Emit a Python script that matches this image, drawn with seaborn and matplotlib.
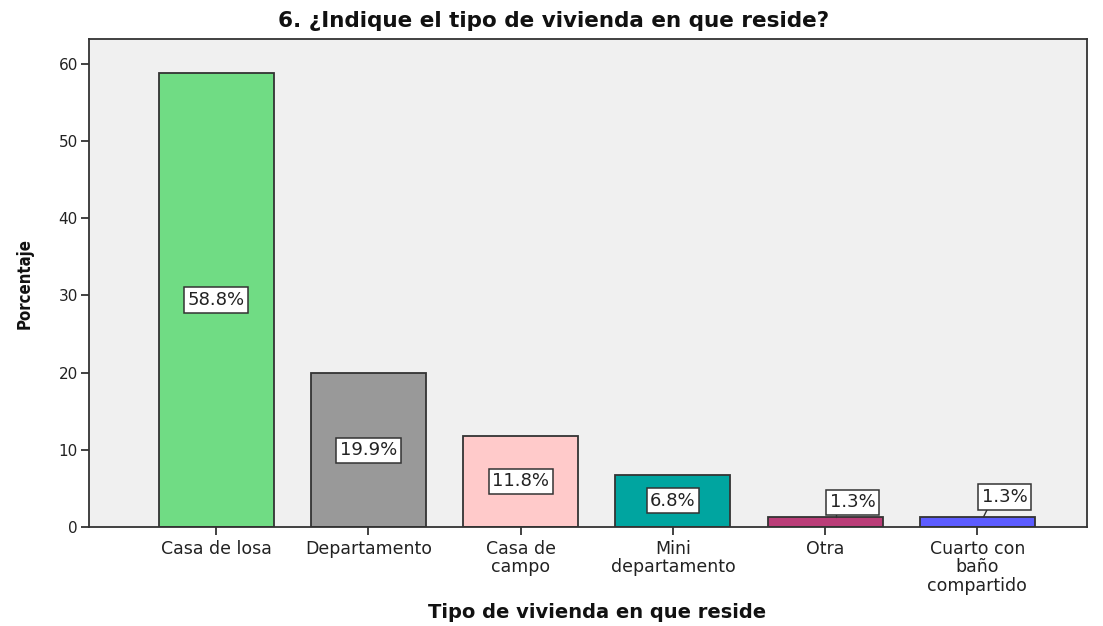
import matplotlib
matplotlib.use("Agg")
import matplotlib.pyplot as plt
import seaborn as sns
import pandas as pd

categories = ["Casa de losa", "Departamento", "Casa de\ncampo", "Mini\ndepartamento", "Otra", "Cuarto con\nbaño\ncompartido"]
values = [58.8, 19.9, 11.8, 6.8, 1.3, 1.3]
labels = ["58.8%", "19.9%", "11.8%", "6.8%", "1.3%", "1.3%"]
colors = ["#70DC84", "#999999", "#FFCACA", "#00A5A0", "#BA3D78", "#5C5CFF"]

sns.set_theme(style="white")
plt.rcParams['font.family'] = ['DejaVu Sans']

df = pd.DataFrame({"cat": categories, "val": values})

fig = plt.figure(figsize=(11.03, 6.26), dpi=100)
ax = fig.add_axes([0.0807, 0.1581, 0.9048, 0.7796])
ax.set_facecolor("#F0F0F0")

sns.barplot(data=df, x="cat", y="val", hue="cat", palette=colors, legend=False,
            width=0.755, edgecolor="#333333", linewidth=1.3, saturation=1, ax=ax)

ax.set_xlim(-0.836, 5.72)
ax.set_ylim(0, 63.2)
ax.set_yticks([0, 10, 20, 30, 40, 50, 60])
for s in ax.spines.values():
    s.set_color("#333333")
    s.set_linewidth(1.3)
ax.tick_params(axis="both", which="both", direction="out", length=6, width=1.3, color="#333333",
               labelsize=12.5, labelcolor="#222222", bottom=True, left=True, pad=3)
ax.tick_params(axis="y", labelsize=11, pad=2)
for t in ax.get_xticklabels():
    t.set_linespacing(1.05)

box = dict(boxstyle="square,pad=0.2", fc="white", ec="#333333", lw=1.1)
for i, (v, lab) in enumerate(zip(values, labels)):
    if v > 5:
        ax.text(i, v / 2, lab, ha="center", va="center", fontsize=13, bbox=box, color="#222222")
    else:
        ybox = 3.2 if i == 4 else 3.9
        ax.text(i + 0.18, ybox, lab, ha="center", va="center", fontsize=13, bbox=box, color="#222222")
        x0 = i + (0.07 if i == 4 else 0.04)
        ax.plot([x0, i + 0.07], [v, ybox - 1.4], color="#333333", lw=1.0)

fig.text(0.502, 1 - 21 / 626, "6. ¿Indique el tipo de vivienda en que reside?", fontsize=15.5,
         fontweight="bold", ha="center", va="center", color="#111111")
ax.set_xlabel("")
fig.text(597 / 1103, 1 - 612 / 626, "Tipo de vivienda en que reside", fontsize=14, fontweight="bold",
         ha="center", va="center", color="#111111")
ax.set_ylabel("Porcentaje", fontsize=12, fontweight="bold", fontstretch="condensed", labelpad=18, color="#111111")

fig.savefig("out.png", dpi=100)
